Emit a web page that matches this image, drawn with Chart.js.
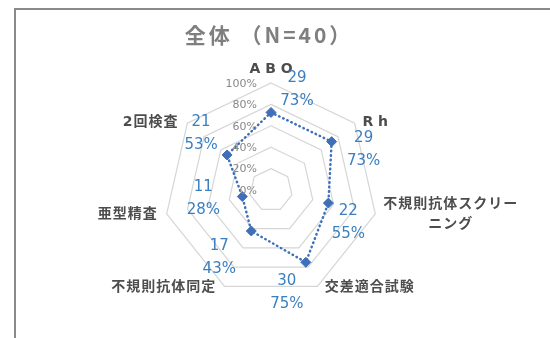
<!DOCTYPE html>
<html>
<head>
<meta charset="utf-8">
<script src="https://cdn.jsdelivr.net/npm/chart.js@4/dist/chart.umd.min.js"></script>
<style>
  body { margin: 0; background: #fff; }
  #contenedor { width: 550px; height: 338px; }
</style>
</head>
<body>
<div id="contenedor"><canvas id="grafico" width="550" height="338"></canvas></div>
<script>
const titulo = "全体 （N=40）";
const total = 40;
const categorias = ["A B O", "R h", ["不規則抗体スクリー", "ニング"], "交差適合試験", "不規則抗体同定", "亜型精査", "2回検査"];
const cantidades = [29, 29, 22, 30, 17, 11, 21];
const marcas = [0, 0.2, 0.4, 0.6, 0.8, 1];

// posicion de las etiquetas de cada punto (desplazamiento respecto al marcador)
const desplazamientos = [[26, -34], [32, -4], [20, 8], [-19, 19], [-32, 15], [-39, -9], [-26, -33]];

const fuenteNum = '"DejaVu Sans", "Noto Sans CJK JP", sans-serif';

const marco = {
  id: "marco",
  beforeDraw(chart) {
    const ctx = chart.ctx;
    ctx.save();
    ctx.fillStyle = "#fff";
    ctx.fillRect(0, 0, chart.width, chart.height);
    ctx.strokeStyle = "#8a8a8a";
    ctx.lineWidth = 2;
    ctx.strokeRect(15, 9, chart.width, chart.height);
    ctx.restore();
  },
  afterDraw(chart) {
    const ctx = chart.ctx;
    const r = chart.scales.r;
    ctx.save();

    // titulo
    ctx.fillStyle = "#7f7f7f";
    ctx.font = 'bold 21px "Noto Sans CJK JP", sans-serif';
    ctx.letterSpacing = "3px";
    ctx.textAlign = "center";
    ctx.textBaseline = "middle";
    ctx.fillText(titulo, 269, 35);
    ctx.letterSpacing = "0px";

    // etiquetas del eje (0% ... 100%)
    ctx.font = "11px " + fuenteNum;
    ctx.fillStyle = "#888888";
    ctx.textAlign = "right";
    marcas.forEach((v) => {
      const y = r.yCenter - r.getDistanceFromCenterForValue(v);
      ctx.fillText(Math.round(v * 100) + "%", r.xCenter - 14, y + 1);
    });

    // nombres de categorias
    ctx.font = "bold 14px " + fuenteNum;
    ctx.fillStyle = "#4d4d4d";
    categorias.forEach((c, i) => {
      const p = r.getPointPosition(i, r.drawingArea + 1);
      const lineas = Array.isArray(c) ? c : [c];
      const alto = 20;
      ctx.letterSpacing = /[^\x00-\x7f]/.test(lineas[0]) ? "1px" : "0px";
      if (i === 0) {
        ctx.textAlign = "center";
        ctx.fillText(lineas[0], p.x, p.y - 13);
        return;
      }
      const derecha = p.x > r.xCenter;
      let ancho = Math.max(...lineas.map((l) => ctx.measureText(l).width));
      const y0 = p.y - ((lineas.length - 1) * alto) / 2;
      lineas.forEach((l, k) => {
        if (derecha) {
          ctx.textAlign = "center";
          ctx.fillText(l, p.x + 7 + ancho / 2, y0 + k * alto);
        } else {
          ctx.textAlign = "right";
          ctx.fillText(l, p.x - 8, y0 + k * alto);
        }
      });
    });
    ctx.letterSpacing = "0px";

    // etiquetas de datos: cantidad y porcentaje
    const meta = chart.getDatasetMeta(0);
    ctx.font = "15px " + fuenteNum;
    ctx.fillStyle = "#3a7fc0";
    ctx.textAlign = "center";
    meta.data.forEach((pt, i) => {
      const [dx, dy] = desplazamientos[i];
      const pct = Math.round((cantidades[i] / total) * 100) + "%";
      ctx.fillText(String(cantidades[i]), pt.x + dx, pt.y + dy);
      ctx.fillText(pct, pt.x + dx, pt.y + dy + 23);
    });
    ctx.restore();
  },
};

const ctx = document.getElementById("grafico").getContext("2d");
new Chart(ctx, {
  type: "radar",
  data: {
    labels: categorias,
    datasets: [
      {
        label: "全体",
        data: cantidades.map((c) => c / total),
        borderColor: "#3f6fb8",
        borderWidth: 2.5,
        borderDash: [0.5, 4],
        borderCapStyle: "round",
        backgroundColor: "rgba(0,0,0,0)",
        fill: false,
        pointStyle: "rectRot",
        pointRadius: 5,
        pointBackgroundColor: "#3f6fb8",
        pointBorderColor: "#3f6fb8",
        pointBorderWidth: 1,
      },
    ],
  },
  options: {
    responsive: false,
    animation: false,
    devicePixelRatio: 1,
    layout: { padding: { top: 83, bottom: 40, left: 164, right: 172 } },
    plugins: { legend: { display: false }, tooltip: { enabled: false } },
    scales: {
      r: {
        min: 0,
        max: 1,
        ticks: { stepSize: 0.2, display: false },
        grid: { color: "#d6d6d6", lineWidth: 1.2 },
        angleLines: { display: false },
        pointLabels: { display: false },
      },
    },
  },
  plugins: [marco],
});
</script>
</body>
</html>
